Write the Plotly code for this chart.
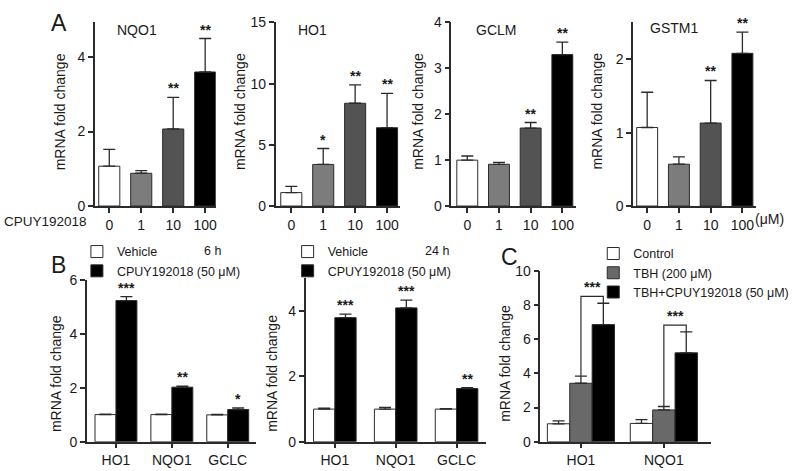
import numpy as np
import plotly.graph_objects as go

W, H = 800, 471
FONT = "Liberation Sans, Arial, sans-serif"
INK = "#1a1a1a"
LINE = "#2b2b2b"

# ---- panel A: dose response (CPUY192018, uM)
conc = ["0", "1", "10", "100"]
conc_colors = ["#ffffff", "#7c7c7c", "#535353", "#000000"]

nqo1_mean = [1.07, 0.88, 2.07, 3.60]
nqo1_sem = [0.45, 0.07, 0.85, 0.90]
nqo1_sig = ["", "", "**", "**"]

ho1_mean = [1.10, 3.40, 8.40, 6.40]
ho1_sem = [0.50, 1.30, 1.50, 2.80]
ho1_sig = ["", "*", "**", "**"]

gclm_mean = [1.00, 0.91, 1.70, 3.30]
gclm_sem = [0.09, 0.04, 0.12, 0.27]
gclm_sig = ["", "", "**", "**"]

gstm1_mean = [1.07, 0.57, 1.13, 2.08]
gstm1_sem = [0.48, 0.10, 0.58, 0.29]
gstm1_sig = ["", "", "**", "**"]

# ---- panel B: 6 h and 24 h, 50 uM
genes_b = ["HO1", "NQO1", "GCLC"]
veh_6h = [1.01, 1.01, 1.00]
veh_6h_sem = [0.02, 0.02, 0.02]
cpuy_6h = [5.25, 2.03, 1.20]
cpuy_6h_sem = [0.15, 0.04, 0.06]
sig_6h = ["***", "**", "*"]

veh_24h = [1.00, 1.00, 1.00]
veh_24h_sem = [0.03, 0.05, 0.01]
cpuy_24h = [3.80, 4.10, 1.63]
cpuy_24h_sem = [0.11, 0.24, 0.03]
sig_24h = ["***", "***", "**"]

# ---- panel C: TBH challenge
genes_c = ["HO1", "NQO1"]
ctrl_c = [1.05, 1.07]
ctrl_c_sem = [0.17, 0.22]
tbh_c = [3.42, 1.86]
tbh_c_sem = [0.42, 0.20]
combo_c = [6.85, 5.20]
combo_c_sem = [1.25, 1.22]
sig_c = ["***", "***"]


def px(x):
    return x / W


def py(y):
    return 1 - y / H


def ax_names(n):
    s = "" if n == 1 else str(n)
    return "x" + s, "y" + s, "xaxis" + s, "yaxis" + s


axis_common = dict(showline=True, linecolor=LINE, linewidth=1.5, ticks="outside",
                   ticklen=5, tickwidth=1.5, tickcolor=LINE, showgrid=False,
                   zeroline=False, tickfont=dict(size=14, color=INK))

# pixel frames of each plot: (x left, x right, y top, y bottom), x range, y range, y dtick
panels = {
    1: ((95, 216, 15, 205), [-0.45, 3.33], [0, 4.93], 2, conc),
    2: ((276, 400, 15, 205), [-0.49, 3.39], [0, 15], 5, conc),
    3: ((452, 577, 15, 205), [-0.50, 3.44], [0, 4], 1, conc),
    4: ((634, 757, 15, 205), [-0.44, 3.43], [0, 2.5], 1, conc),
    5: ((87, 256, 282, 449), [-0.52, 2.50], [0, 6], 2, genes_b),
    6: ((306, 487, 280, 449), [-0.48, 2.49], [0, 5], 2, genes_b),
    7: ((541, 712, 272, 449), [-0.49, 1.57], [0, 10], 2, genes_c),
}

fig = go.Figure()
layout = {}
for n, (frame, xr, yr, dt, cats) in panels.items():
    xa, ya, xk, yk = ax_names(n)
    x0, x1, t, b = frame
    layout[xk] = dict(domain=[px(x0), px(x1)], anchor=ya, range=xr,
                      tickvals=list(range(len(cats))), ticktext=cats, **axis_common)
    layout[yk] = dict(domain=[py(b), py(t)], anchor=xa, range=yr, dtick=dt,
                      **axis_common)


def err(sem):
    return dict(type="data", array=sem, arrayminus=[0] * len(sem), symmetric=False,
                color=LINE, thickness=1.3, width=6)


def star(xa, ya, x, y, s):
    fig.add_annotation(x=x, y=y, xref=xa, yref=ya, text="<b>" + s + "</b>", showarrow=False,
                       yanchor="bottom", yshift=-1, font=dict(size=14, color=INK))


# panel A
dose_sets = [(1, nqo1_mean, nqo1_sem, nqo1_sig), (2, ho1_mean, ho1_sem, ho1_sig),
             (3, gclm_mean, gclm_sem, gclm_sig), (4, gstm1_mean, gstm1_sem, gstm1_sig)]
for n, mean, sem, sig in dose_sets:
    xa, ya, _, _ = ax_names(n)
    idx = np.arange(len(conc))
    fig.add_trace(go.Bar(x=idx, y=mean, width=0.66, showlegend=False,
                         marker=dict(color=conc_colors, line=dict(color=LINE, width=1)),
                         error_y=err(sem), xaxis=xa, yaxis=ya))
    for i, s in enumerate(sig):
        if s:
            star(xa, ya, idx[i], mean[i] + sem[i], s)

# panel B
b_sets = [(5, 0.375, "legend", veh_6h, veh_6h_sem, cpuy_6h, cpuy_6h_sem, sig_6h),
          (6, 0.35, "legend2", veh_24h, veh_24h_sem, cpuy_24h, cpuy_24h_sem, sig_24h)]
for n, w, lg, veh, veh_sem, cp, cp_sem, sig in b_sets:
    xa, ya, _, _ = ax_names(n)
    idx = np.arange(len(genes_b))
    fig.add_trace(go.Bar(x=idx, y=veh, width=w, offset=-w, name="Vehicle", legend=lg,
                         marker=dict(color="#ffffff", line=dict(color=LINE, width=1)),
                         error_y=err(veh_sem), xaxis=xa, yaxis=ya))
    fig.add_trace(go.Bar(x=idx, y=cp, width=w, offset=0, name="CPUY192018 (50 μM)", legend=lg,
                         marker=dict(color="#000000", line=dict(color=LINE, width=1)),
                         error_y=err(cp_sem), xaxis=xa, yaxis=ya))
    for i, s in enumerate(sig):
        star(xa, ya, idx[i] + w / 2, cp[i] + cp_sem[i], s)

# panel C
wc = 0.27
idx_c = np.arange(len(genes_c))
c_series = [("Control", "#ffffff", ctrl_c, ctrl_c_sem, -1.5),
            ("TBH (200 μM)", "#696969", tbh_c, tbh_c_sem, -0.5),
            ("TBH+CPUY192018 (50 μM)", "#000000", combo_c, combo_c_sem, 0.5)]
for name, col, mean, sem, off in c_series:
    fig.add_trace(go.Bar(x=idx_c, y=mean, width=wc, offset=off * wc, name=name, legend="legend3",
                         marker=dict(color=col, line=dict(color=LINE, width=1)),
                         error_y=err(sem), xaxis="x7", yaxis="y7"))
for i in idx_c:
    xl, xr_ = i, i + wc
    yl = tbh_c[i] + tbh_c_sem[i]
    yr_ = combo_c[i] + combo_c_sem[i]
    level = yr_ + 0.4
    fig.add_shape(type="path", xref="x7", yref="y7",
                  path=f"M {xl},{yl} L {xl},{level} L {xr_},{level} L {xr_},{yr_}",
                  line=dict(color=LINE, width=1.2))
    star("x7", "y7", (xl + xr_) / 2, level, sig_c[i])


# text labels
def text(x, y, s, size=14, angle=0, xanchor="center"):
    fig.add_annotation(x=px(x), y=py(y), xref="paper", yref="paper", text=s,
                       showarrow=False, textangle=angle, xanchor=xanchor, yanchor="middle",
                       font=dict(size=size, color=INK))


for lbl, x, y in [("A", 59, 16), ("B", 59, 266), ("C", 510, 258)]:
    text(x, y, lbl, size=23)
for s, x, y in [("NQO1", 137, 23), ("HO1", 313, 23), ("GCLM", 497, 23), ("GSTM1", 675, 21)]:
    text(x, y, s)
for x, y in [(60, 107), (241, 107), (419, 107), (598, 107), (56, 378), (273, 378), (506, 368)]:
    text(x, y, "mRNA fold change", angle=-90)
text(2, 221, "CPUY192018", size=13.5, xanchor="left")
text(770, 218, "(μM)")
text(213, 252, "6 h", size=12.5)
text(438, 252, "24 h", size=12.5)

leg = dict(bgcolor="rgba(0,0,0,0)", font=dict(size=12.5, color=INK), xanchor="left",
           yanchor="top", tracegroupgap=0, itemclick=False, itemdoubleclick=False)
layout["legend"] = dict(x=px(77), y=py(237), **leg)
layout["legend2"] = dict(x=px(288), y=py(237), **leg)
layout["legend3"] = dict(x=px(594), y=py(239), **leg)

fig.update_layout(width=W, height=H, margin=dict(l=0, r=0, t=0, b=0),
                  paper_bgcolor="white", plot_bgcolor="white", barmode="overlay",
                  font=dict(family=FONT, size=14, color=INK), **layout)

# page body has a default 8px margin; drop it so the figure sits at the window corner
fig.write_html("out.html", config={"displayModeBar": False},
               post_script="document.body.style.margin = '0';")
